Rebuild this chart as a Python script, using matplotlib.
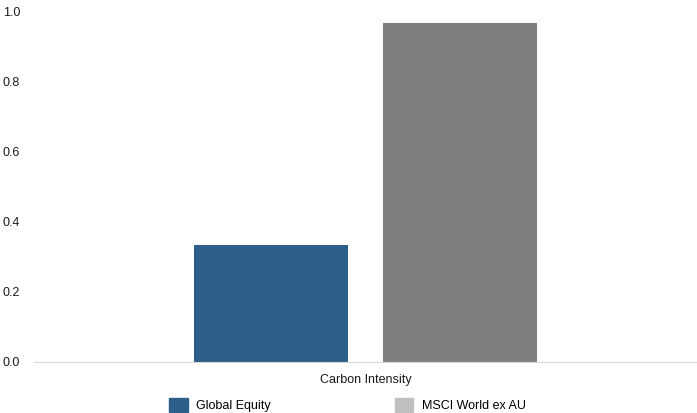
import matplotlib.pyplot as plt
from matplotlib.patches import Patch

plt.rcParams['font.family'] = ['Liberation Sans', 'DejaVu Sans']

category = ['Carbon Intensity']
series = ['Global Equity', 'MSCI World ex AU']
values = [0.333, 0.966]
bar_colors = ['#2e5f8a', '#7f7f7f']
legend_colors = ['#2e5f8a', '#bfbfbf']

fig = plt.figure(figsize=(6.97, 4.13), dpi=100)
ax = fig.add_axes([34/697, 51/413, 663/697, 351/413])

offsets = [-0.1425, 0.1425]
width = 0.232
for off, v, c in zip(offsets, values, bar_colors):
    ax.bar(0 + off, v, width=width, color=c)

ax.set_xlim(-0.5, 0.5)
ax.set_ylim(0, 1.0)
ax.set_yticks([0.0, 0.2, 0.4, 0.6, 0.8, 1.0])
ax.set_yticklabels(['0.0', '0.2', '0.4', '0.6', '0.8', '1.0'])
ax.set_xticks([0])
ax.set_xticklabels(category)
ax.tick_params(axis='both', length=0, labelsize=9, colors='#1a1a1a')
ax.tick_params(axis='y', pad=22.6)
for lbl in ax.get_yticklabels():
    lbl.set_horizontalalignment('left')
ax.tick_params(axis='x', pad=9)

for s in ['top', 'right', 'left']:
    ax.spines[s].set_visible(False)
ax.spines['bottom'].set_color('#d9d9d9')

handles = [Patch(color=c, label=s) for c, s in zip(legend_colors, series)]
fig.legend(handles=handles, loc='lower center', bbox_to_anchor=(0.4985, -0.026),
           ncol=2, frameon=False, fontsize=9, columnspacing=9.9,
           handlelength=1.5, handleheight=1.4, handletextpad=0.7)

fig.savefig('out.png', dpi=100)
